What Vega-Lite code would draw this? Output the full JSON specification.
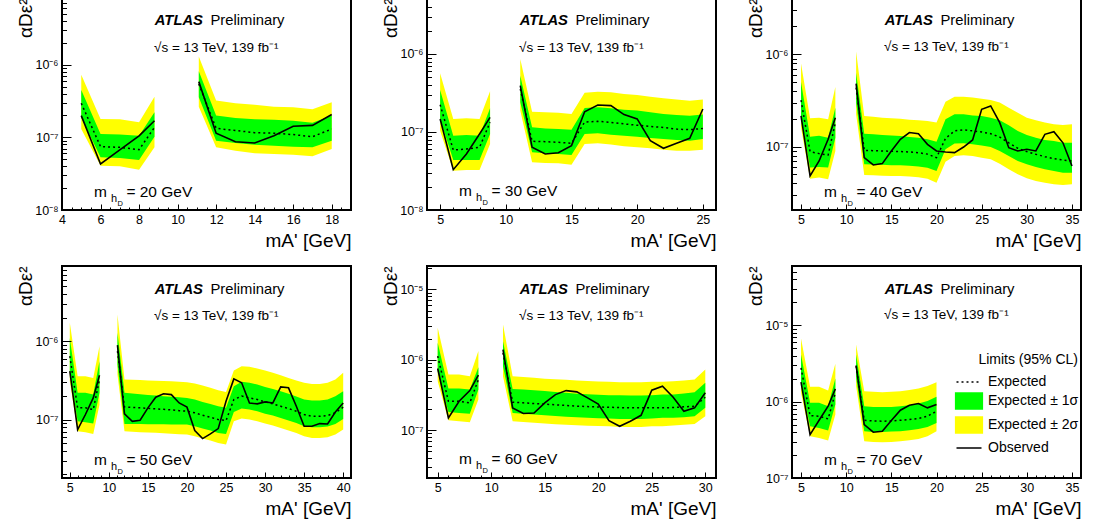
{
"$schema": "https://vega.github.io/schema/vega-lite/v6.json",
"background": "white",
"padding": {"left": 15, "top": -9, "right": 0, "bottom": 0},
"columns": 3,
"spacing": {"row": 56, "column": 76},
"bounds": "flush",
"resolve": {"scale": {"color": "independent"}, "legend": {"color": "independent"}},
"config": {
  "font": "Liberation Sans",
  "view": {"stroke": "black", "strokeWidth": 2},
  "axis": {"domain": false, "grid": false, "labelFont": "Liberation Sans", "labelFontSize": 12.5, "labelColor": "black", "tickColor": "black", "tickWidth": 1, "titleFont": "Liberation Sans", "titleFontSize": 19, "titleFontWeight": "normal", "titleColor": "black", "labelOverlap": false, "labelFlush": false},
  "text": {"font": "Liberation Sans", "color": "black"}
},
"datasets": {
"m20": [
{"x":5,"s":1,"lo2":1.30e-7,"lo1":1.88e-7,"exp":2.94e-7,"hi1":4.48e-7,"hi2":7.27e-7,"obs":1.99e-7},
{"x":6,"s":1,"lo2":4.07e-8,"lo1":5.31e-8,"exp":7.44e-8,"hi1":1.11e-7,"hi2":1.79e-7,"obs":4.30e-8},
{"x":7,"s":1,"lo2":3.99e-8,"lo1":5.20e-8,"exp":7.28e-8,"hi1":1.09e-7,"hi2":1.77e-7,"obs":6.70e-8},
{"x":8,"s":1,"lo2":3.59e-8,"lo1":4.88e-8,"exp":6.76e-8,"hi1":1.05e-7,"hi2":1.61e-7,"obs":1.05e-7},
{"x":8.8,"s":1,"lo2":7.28e-8,"lo1":1.02e-7,"exp":1.37e-7,"hi1":2.21e-7,"hi2":3.63e-7,"obs":1.69e-7},
{"x":11.1,"s":2,"lo2":2.64e-7,"lo1":3.55e-7,"exp":5.42e-7,"hi1":8.09e-7,"hi2":1.29e-6,"obs":5.84e-7},
{"x":12,"s":2,"lo2":7.28e-8,"lo1":9.0e-8,"exp":1.33e-7,"hi1":1.99e-7,"hi2":3.20e-7,"obs":1.14e-7},
{"x":13,"s":2,"lo2":6.56e-8,"lo1":8.36e-8,"exp":1.24e-7,"hi1":1.85e-7,"hi2":2.94e-7,"obs":8.71e-8},
{"x":14,"s":2,"lo2":6.03e-8,"lo1":7.93e-8,"exp":1.16e-7,"hi1":1.77e-7,"hi2":2.80e-7,"obs":8.36e-8},
{"x":15,"s":2,"lo2":5.90e-8,"lo1":7.68e-8,"exp":1.14e-7,"hi1":1.74e-7,"hi2":2.64e-7,"obs":1.05e-7},
{"x":16,"s":2,"lo2":5.77e-8,"lo1":7.44e-8,"exp":1.09e-7,"hi1":1.69e-7,"hi2":2.59e-7,"obs":1.42e-7},
{"x":17,"s":2,"lo2":5.48e-8,"lo1":7.28e-8,"exp":1.02e-7,"hi1":1.59e-7,"hi2":2.43e-7,"obs":1.46e-7},
{"x":18,"s":2,"lo2":6.90e-8,"lo1":9.0e-8,"exp":1.30e-7,"hi1":1.99e-7,"hi2":3.03e-7,"obs":2.06e-7}
],
"m30": [
{"x":5,"s":1,"lo2":1.04e-7,"lo1":1.47e-7,"exp":2.24e-7,"hi1":3.45e-7,"hi2":5.65e-7,"obs":1.47e-7},
{"x":6,"s":1,"lo2":3.19e-8,"lo1":4.38e-8,"exp":5.87e-8,"hi1":8.97e-8,"hi2":1.47e-7,"obs":3.29e-8},
{"x":7,"s":1,"lo2":3.26e-8,"lo1":4.38e-8,"exp":6.05e-8,"hi1":9.16e-8,"hi2":1.50e-7,"obs":5.23e-8},
{"x":8,"s":1,"lo2":3.26e-8,"lo1":4.38e-8,"exp":6.36e-8,"hi1":8.97e-8,"hi2":1.47e-7,"obs":9.42e-8},
{"x":8.8,"s":1,"lo2":7.02e-8,"lo1":9.42e-8,"exp":1.33e-7,"hi1":2.01e-7,"hi2":3.32e-7,"obs":1.54e-7},
{"x":11.1,"s":2,"lo2":1.88e-7,"lo1":2.40e-7,"exp":3.56e-7,"hi1":5.27e-7,"hi2":8.63e-7,"obs":3.93e-7},
{"x":12,"s":2,"lo2":4.08e-8,"lo1":5.48e-8,"exp":7.59e-8,"hi1":1.15e-7,"hi2":1.82e-7,"obs":6.36e-8},
{"x":13,"s":2,"lo2":4.01e-8,"lo1":5.32e-8,"exp":7.52e-8,"hi1":1.11e-7,"hi2":1.79e-7,"obs":5.23e-8},
{"x":14,"s":2,"lo2":3.97e-8,"lo1":5.23e-8,"exp":7.38e-8,"hi1":1.09e-7,"hi2":1.76e-7,"obs":5.43e-8},
{"x":15,"s":2,"lo2":3.81e-8,"lo1":5.07e-8,"exp":7.16e-8,"hi1":1.07e-7,"hi2":1.70e-7,"obs":6.68e-8},
{"x":16,"s":2,"lo2":7.02e-8,"lo1":9.42e-8,"exp":1.34e-7,"hi1":2.03e-7,"hi2":3.19e-7,"obs":1.82e-7},
{"x":17,"s":2,"lo2":7.16e-8,"lo1":9.62e-8,"exp":1.37e-7,"hi1":2.07e-7,"hi2":3.29e-7,"obs":2.22e-7},
{"x":18,"s":2,"lo2":6.89e-8,"lo1":9.25e-8,"exp":1.33e-7,"hi1":2.01e-7,"hi2":3.23e-7,"obs":2.18e-7},
{"x":19,"s":2,"lo2":6.55e-8,"lo1":8.97e-8,"exp":1.27e-7,"hi1":1.93e-7,"hi2":3.07e-7,"obs":1.67e-7},
{"x":20,"s":2,"lo2":6.36e-8,"lo1":8.71e-8,"exp":1.22e-7,"hi1":1.88e-7,"hi2":2.98e-7,"obs":1.47e-7},
{"x":21,"s":2,"lo2":6.18e-8,"lo1":8.38e-8,"exp":1.18e-7,"hi1":1.79e-7,"hi2":2.84e-7,"obs":7.74e-8},
{"x":22,"s":2,"lo2":5.94e-8,"lo1":8.13e-8,"exp":1.14e-7,"hi1":1.70e-7,"hi2":2.70e-7,"obs":6.18e-8},
{"x":23,"s":2,"lo2":5.76e-8,"lo1":7.89e-8,"exp":1.09e-7,"hi1":1.65e-7,"hi2":2.60e-7,"obs":7.16e-8},
{"x":24,"s":2,"lo2":5.76e-8,"lo1":7.74e-8,"exp":1.07e-7,"hi1":1.62e-7,"hi2":2.52e-7,"obs":8.29e-8},
{"x":25,"s":2,"lo2":5.94e-8,"lo1":8.13e-8,"exp":1.11e-7,"hi1":1.67e-7,"hi2":2.60e-7,"obs":1.97e-7}
],
"m40": [
{"x":5,"s":1,"lo2":1.61e-7,"lo1":2.15e-7,"exp":3.18e-7,"hi1":5.01e-7,"hi2":7.93e-7,"obs":2.15e-7},
{"x":6,"s":1,"lo2":4.50e-8,"lo1":5.93e-8,"exp":8.83e-8,"hi1":1.28e-7,"hi2":2.03e-7,"obs":4.81e-8},
{"x":7,"s":1,"lo2":4.62e-8,"lo1":6.02e-8,"exp":8.40e-8,"hi1":1.31e-7,"hi2":2.06e-7,"obs":7.0e-8},
{"x":8,"s":1,"lo2":4.43e-8,"lo1":5.93e-8,"exp":8.12e-8,"hi1":1.25e-7,"hi2":1.98e-7,"obs":1.20e-7},
{"x":8.8,"s":1,"lo2":8.98e-8,"lo1":1.25e-7,"exp":1.82e-7,"hi1":2.64e-7,"hi2":4.43e-7,"obs":2.06e-7},
{"x":11.1,"s":2,"lo2":2.24e-7,"lo1":3.0e-7,"exp":4.35e-7,"hi1":6.33e-7,"hi2":1.07e-6,"obs":4.81e-7},
{"x":12,"s":2,"lo2":4.93e-8,"lo1":6.44e-8,"exp":9.12e-8,"hi1":1.38e-7,"hi2":2.15e-7,"obs":7.6e-8},
{"x":13,"s":2,"lo2":4.9e-8,"lo1":6.4e-8,"exp":9.05e-8,"hi1":1.36e-7,"hi2":2.11e-7,"obs":6.33e-8},
{"x":14,"s":2,"lo2":4.85e-8,"lo1":6.35e-8,"exp":8.98e-8,"hi1":1.34e-7,"hi2":2.06e-7,"obs":6.55e-8},
{"x":15,"s":2,"lo2":4.8e-8,"lo1":6.3e-8,"exp":8.9e-8,"hi1":1.32e-7,"hi2":2.03e-7,"obs":8.98e-8},
{"x":16,"s":2,"lo2":4.8e-8,"lo1":6.3e-8,"exp":8.85e-8,"hi1":1.30e-7,"hi2":2.0e-7,"obs":1.20e-7},
{"x":17,"s":2,"lo2":4.75e-8,"lo1":6.2e-8,"exp":8.75e-8,"hi1":1.27e-7,"hi2":1.96e-7,"obs":1.42e-7},
{"x":18,"s":2,"lo2":4.65e-8,"lo1":6.1e-8,"exp":8.6e-8,"hi1":1.25e-7,"hi2":1.93e-7,"obs":1.38e-7},
{"x":19,"s":2,"lo2":4.5e-8,"lo1":5.9e-8,"exp":8.3e-8,"hi1":1.20e-7,"hi2":1.90e-7,"obs":1.06e-7},
{"x":20,"s":2,"lo2":4.07e-8,"lo1":5.45e-8,"exp":7.6e-8,"hi1":1.13e-7,"hi2":1.82e-7,"obs":8.98e-8},
{"x":21,"s":2,"lo2":6.88e-8,"lo1":9.36e-8,"exp":1.23e-7,"hi1":1.98e-7,"hi2":3.07e-7,"obs":8.75e-8},
{"x":22,"s":2,"lo2":7.92e-8,"lo1":1.08e-7,"exp":1.48e-7,"hi1":2.24e-7,"hi2":3.48e-7,"obs":8.61e-8},
{"x":23,"s":2,"lo2":8.05e-8,"lo1":1.09e-7,"exp":1.52e-7,"hi1":2.24e-7,"hi2":3.48e-7,"obs":9.9e-8},
{"x":24,"s":2,"lo2":7.92e-8,"lo1":1.06e-7,"exp":1.48e-7,"hi1":2.18e-7,"hi2":3.40e-7,"obs":1.18e-7},
{"x":25,"s":2,"lo2":7.6e-8,"lo1":1.03e-7,"exp":1.44e-7,"hi1":2.15e-7,"hi2":3.31e-7,"obs":2.54e-7},
{"x":26,"s":2,"lo2":7.29e-8,"lo1":9.9e-8,"exp":1.38e-7,"hi1":2.06e-7,"hi2":3.20e-7,"obs":2.76e-7},
{"x":27,"s":2,"lo2":6.54e-8,"lo1":8.98e-8,"exp":1.27e-7,"hi1":1.93e-7,"hi2":3.0e-7,"obs":1.82e-7},
{"x":28,"s":2,"lo2":5.68e-8,"lo1":7.92e-8,"exp":1.10e-7,"hi1":1.70e-7,"hi2":2.64e-7,"obs":9.75e-8},
{"x":29,"s":2,"lo2":5.01e-8,"lo1":6.99e-8,"exp":9.6e-8,"hi1":1.48e-7,"hi2":2.33e-7,"obs":8.98e-8},
{"x":30,"s":2,"lo2":4.54e-8,"lo1":6.44e-8,"exp":8.83e-8,"hi1":1.34e-7,"hi2":2.06e-7,"obs":9.36e-8},
{"x":31,"s":2,"lo2":4.25e-8,"lo1":6.02e-8,"exp":8.26e-8,"hi1":1.25e-7,"hi2":1.93e-7,"obs":8.98e-8},
{"x":32,"s":2,"lo2":4.07e-8,"lo1":5.68e-8,"exp":7.79e-8,"hi1":1.18e-7,"hi2":1.82e-7,"obs":1.36e-7},
{"x":33,"s":2,"lo2":3.91e-8,"lo1":5.45e-8,"exp":7.41e-8,"hi1":1.15e-7,"hi2":1.75e-7,"obs":1.45e-7},
{"x":34,"s":2,"lo2":3.84e-8,"lo1":5.23e-8,"exp":7.17e-8,"hi1":1.10e-7,"hi2":1.72e-7,"obs":1.10e-7},
{"x":35,"s":2,"lo2":3.91e-8,"lo1":5.23e-8,"exp":6.99e-8,"hi1":1.10e-7,"hi2":1.75e-7,"obs":6.18e-8}
],
"m50": [
{"x":5,"s":1,"lo2":3.08e-7,"lo1":4.14e-7,"exp":6.44e-7,"hi1":1.10e-6,"hi2":1.71e-6,"obs":4.14e-7},
{"x":6,"s":1,"lo2":7.1e-8,"lo1":9.5e-8,"exp":1.41e-7,"hi1":2.19e-7,"hi2":3.57e-7,"obs":7.45e-8},
{"x":7,"s":1,"lo2":6.9e-8,"lo1":9.25e-8,"exp":1.41e-7,"hi1":2.19e-7,"hi2":3.57e-7,"obs":1.16e-7},
{"x":8,"s":1,"lo2":6.56e-8,"lo1":8.89e-8,"exp":1.34e-7,"hi1":2.08e-7,"hi2":3.40e-7,"obs":1.89e-7},
{"x":8.8,"s":1,"lo2":1.55e-7,"lo1":2.19e-7,"exp":3.24e-7,"hi1":5.55e-7,"hi2":8.63e-7,"obs":3.68e-7},
{"x":11.1,"s":2,"lo2":3.75e-7,"lo1":5.04e-7,"exp":7.45e-7,"hi1":1.28e-6,"hi2":2.19e-6,"obs":8.89e-7},
{"x":12,"s":2,"lo2":7.1e-8,"lo1":8.8e-8,"exp":1.45e-7,"hi1":2.2e-7,"hi2":3.25e-7,"obs":1.18e-7},
{"x":13,"s":2,"lo2":7.0e-8,"lo1":8.8e-8,"exp":1.43e-7,"hi1":2.15e-7,"hi2":3.22e-7,"obs":9.5e-8},
{"x":14,"s":2,"lo2":6.9e-8,"lo1":8.78e-8,"exp":1.41e-7,"hi1":2.1e-7,"hi2":3.19e-7,"obs":9.8e-8},
{"x":15,"s":2,"lo2":6.85e-8,"lo1":8.75e-8,"exp":1.39e-7,"hi1":2.06e-7,"hi2":3.16e-7,"obs":1.41e-7},
{"x":16,"s":2,"lo2":6.8e-8,"lo1":8.72e-8,"exp":1.37e-7,"hi1":2.02e-7,"hi2":3.13e-7,"obs":1.93e-7},
{"x":17,"s":2,"lo2":6.7e-8,"lo1":8.7e-8,"exp":1.35e-7,"hi1":1.98e-7,"hi2":3.1e-7,"obs":2.13e-7},
{"x":18,"s":2,"lo2":6.6e-8,"lo1":8.68e-8,"exp":1.33e-7,"hi1":1.95e-7,"hi2":3.07e-7,"obs":2.08e-7},
{"x":19,"s":2,"lo2":6.5e-8,"lo1":8.65e-8,"exp":1.30e-7,"hi1":1.92e-7,"hi2":3.03e-7,"obs":1.63e-7},
{"x":20,"s":2,"lo2":6.44e-8,"lo1":8.63e-8,"exp":1.28e-7,"hi1":1.89e-7,"hi2":3.0e-7,"obs":1.44e-7},
{"x":21,"s":2,"lo2":6.12e-8,"lo1":8.22e-8,"exp":1.22e-7,"hi1":1.80e-7,"hi2":2.88e-7,"obs":7.24e-8},
{"x":22,"s":2,"lo2":5.72e-8,"lo1":7.67e-8,"exp":1.135e-7,"hi1":1.68e-7,"hi2":2.72e-7,"obs":5.72e-8},
{"x":23,"s":2,"lo2":5.40e-8,"lo1":7.24e-8,"exp":1.07e-7,"hi1":1.585e-7,"hi2":2.54e-7,"obs":6.56e-8},
{"x":24,"s":2,"lo2":5.04e-8,"lo1":6.76e-8,"exp":1.0e-7,"hi1":1.48e-7,"hi2":2.37e-7,"obs":7.67e-8},
{"x":25,"s":2,"lo2":4.80e-8,"lo1":6.56e-8,"exp":9.7e-8,"hi1":1.41e-7,"hi2":2.25e-7,"obs":1.71e-7},
{"x":26,"s":2,"lo2":9.5e-8,"lo1":1.25e-7,"exp":1.80e-7,"hi1":2.66e-7,"hi2":4.22e-7,"obs":3.30e-7},
{"x":27,"s":2,"lo2":1.03e-7,"lo1":1.38e-7,"exp":1.99e-7,"hi1":3.03e-7,"hi2":4.80e-7,"obs":2.94e-7},
{"x":28,"s":2,"lo2":1.0e-7,"lo1":1.34e-7,"exp":1.89e-7,"hi1":2.94e-7,"hi2":4.70e-7,"obs":1.63e-7},
{"x":29,"s":2,"lo2":9.5e-8,"lo1":1.28e-7,"exp":1.80e-7,"hi1":2.80e-7,"hi2":4.48e-7,"obs":1.585e-7},
{"x":30,"s":2,"lo2":8.89e-8,"lo1":1.19e-7,"exp":1.68e-7,"hi1":2.61e-7,"hi2":4.22e-7,"obs":1.68e-7},
{"x":31,"s":2,"lo2":8.38e-8,"lo1":1.125e-7,"exp":1.585e-7,"hi1":2.46e-7,"hi2":3.94e-7,"obs":1.63e-7},
{"x":32,"s":2,"lo2":7.83e-8,"lo1":1.05e-7,"exp":1.48e-7,"hi1":2.30e-7,"hi2":3.68e-7,"obs":2.61e-7},
{"x":33,"s":2,"lo2":7.24e-8,"lo1":9.7e-8,"exp":1.38e-7,"hi1":2.13e-7,"hi2":3.40e-7,"obs":2.54e-7},
{"x":34,"s":2,"lo2":6.76e-8,"lo1":9.07e-8,"exp":1.28e-7,"hi1":1.97e-7,"hi2":3.15e-7,"obs":1.48e-7},
{"x":35,"s":2,"lo2":6.12e-8,"lo1":8.22e-8,"exp":1.16e-7,"hi1":1.80e-7,"hi2":2.94e-7,"obs":8.22e-8},
{"x":36,"s":2,"lo2":5.83e-8,"lo1":7.98e-8,"exp":1.10e-7,"hi1":1.75e-7,"hi2":2.85e-7,"obs":8.22e-8},
{"x":37,"s":2,"lo2":5.83e-8,"lo1":7.98e-8,"exp":1.10e-7,"hi1":1.75e-7,"hi2":2.85e-7,"obs":8.89e-8},
{"x":38,"s":2,"lo2":5.95e-8,"lo1":8.14e-8,"exp":1.125e-7,"hi1":1.80e-7,"hi2":2.94e-7,"obs":8.8e-8},
{"x":39,"s":2,"lo2":6.44e-8,"lo1":8.8e-8,"exp":1.22e-7,"hi1":1.99e-7,"hi2":3.24e-7,"obs":1.25e-7},
{"x":40,"s":2,"lo2":7.45e-8,"lo1":1.02e-7,"exp":1.44e-7,"hi1":2.30e-7,"hi2":3.94e-7,"obs":1.63e-7}
],
"m60": [
{"x":5,"s":1,"lo2":4.97e-7,"lo1":6.9e-7,"exp":1.13e-6,"hi1":1.75e-6,"hi2":2.85e-6,"obs":7.53e-7},
{"x":6,"s":1,"lo2":1.39e-7,"lo1":1.82e-7,"exp":2.58e-7,"hi1":3.91e-7,"hi2":6.18e-7,"obs":1.50e-7},
{"x":7,"s":1,"lo2":1.34e-7,"lo1":1.76e-7,"exp":2.58e-7,"hi1":3.91e-7,"hi2":6.18e-7,"obs":2.58e-7},
{"x":8,"s":1,"lo2":1.30e-7,"lo1":1.71e-7,"exp":2.45e-7,"hi1":3.79e-7,"hi2":5.86e-7,"obs":3.66e-7},
{"x":8.8,"s":1,"lo2":2.73e-7,"lo1":3.79e-7,"exp":5.25e-7,"hi1":7.86e-7,"hi2":1.33e-6,"obs":6.05e-7},
{"x":11.1,"s":2,"lo2":5.86e-7,"lo1":8.13e-7,"exp":1.26e-6,"hi1":1.84e-6,"hi2":3.18e-6,"obs":1.40e-6},
{"x":12,"s":2,"lo2":1.34e-7,"lo1":1.76e-7,"exp":2.50e-7,"hi1":3.87e-7,"hi2":5.86e-7,"obs":2.08e-7},
{"x":13,"s":2,"lo2":1.31e-7,"lo1":1.72e-7,"exp":2.45e-7,"hi1":3.8e-7,"hi2":5.7e-7,"obs":1.73e-7},
{"x":14,"s":2,"lo2":1.28e-7,"lo1":1.68e-7,"exp":2.4e-7,"hi1":3.7e-7,"hi2":5.55e-7,"obs":1.76e-7},
{"x":15,"s":2,"lo2":1.25e-7,"lo1":1.64e-7,"exp":2.35e-7,"hi1":3.6e-7,"hi2":5.4e-7,"obs":2.45e-7},
{"x":16,"s":2,"lo2":1.22e-7,"lo1":1.6e-7,"exp":2.3e-7,"hi1":3.5e-7,"hi2":5.3e-7,"obs":3.21e-7},
{"x":17,"s":2,"lo2":1.2e-7,"lo1":1.56e-7,"exp":2.25e-7,"hi1":3.4e-7,"hi2":5.2e-7,"obs":3.66e-7},
{"x":18,"s":2,"lo2":1.18e-7,"lo1":1.53e-7,"exp":2.2e-7,"hi1":3.3e-7,"hi2":5.1e-7,"obs":3.51e-7},
{"x":19,"s":2,"lo2":1.16e-7,"lo1":1.5e-7,"exp":2.17e-7,"hi1":3.25e-7,"hi2":5.0e-7,"obs":2.88e-7},
{"x":20,"s":2,"lo2":1.15e-7,"lo1":1.48e-7,"exp":2.14e-7,"hi1":3.2e-7,"hi2":4.93e-7,"obs":2.35e-7},
{"x":21,"s":2,"lo2":1.14e-7,"lo1":1.47e-7,"exp":2.12e-7,"hi1":3.15e-7,"hi2":4.87e-7,"obs":1.37e-7},
{"x":22,"s":2,"lo2":1.115e-7,"lo1":1.45e-7,"exp":2.10e-7,"hi1":3.15e-7,"hi2":4.81e-7,"obs":1.14e-7},
{"x":23,"s":2,"lo2":1.115e-7,"lo1":1.45e-7,"exp":2.08e-7,"hi1":3.11e-7,"hi2":4.81e-7,"obs":1.34e-7},
{"x":24,"s":2,"lo2":1.115e-7,"lo1":1.45e-7,"exp":2.08e-7,"hi1":3.11e-7,"hi2":4.81e-7,"obs":1.63e-7},
{"x":25,"s":2,"lo2":1.14e-7,"lo1":1.47e-7,"exp":2.08e-7,"hi1":3.15e-7,"hi2":4.87e-7,"obs":3.70e-7},
{"x":26,"s":2,"lo2":1.14e-7,"lo1":1.50e-7,"exp":2.08e-7,"hi1":3.21e-7,"hi2":4.87e-7,"obs":4.23e-7},
{"x":27,"s":2,"lo2":1.165e-7,"lo1":1.50e-7,"exp":2.10e-7,"hi1":3.21e-7,"hi2":4.97e-7,"obs":2.94e-7},
{"x":28,"s":2,"lo2":1.20e-7,"lo1":1.53e-7,"exp":2.15e-7,"hi1":3.32e-7,"hi2":5.08e-7,"obs":1.86e-7},
{"x":29,"s":2,"lo2":1.23e-7,"lo1":1.58e-7,"exp":2.19e-7,"hi1":3.47e-7,"hi2":5.25e-7,"obs":2.08e-7},
{"x":30,"s":2,"lo2":1.58e-7,"lo1":2.08e-7,"exp":2.94e-7,"hi1":4.71e-7,"hi2":7.29e-7,"obs":3.40e-7}
],
"m70": [
{"x":5,"s":1,"lo2":1.31e-6,"lo1":1.77e-6,"exp":2.78e-6,"hi1":4.16e-6,"hi2":6.75e-6,"obs":1.80e-6},
{"x":6,"s":1,"lo2":3.52e-7,"lo1":4.77e-7,"exp":6.58e-7,"hi1":9.66e-7,"hi2":1.57e-6,"obs":3.70e-7},
{"x":7,"s":1,"lo2":3.35e-7,"lo1":4.53e-7,"exp":6.45e-7,"hi1":9.66e-7,"hi2":1.57e-6,"obs":5.71e-7},
{"x":8,"s":1,"lo2":3.09e-7,"lo1":4.18e-7,"exp":5.95e-7,"hi1":8.73e-7,"hi2":1.40e-6,"obs":8.73e-7},
{"x":8.8,"s":1,"lo2":6.79e-7,"lo1":9.18e-7,"exp":1.31e-6,"hi1":2.01e-6,"hi2":3.14e-6,"obs":1.47e-6},
{"x":11.1,"s":2,"lo2":1.60e-6,"lo1":2.06e-6,"exp":2.92e-6,"hi1":4.16e-6,"hi2":5.63e-6,"obs":2.98e-6},
{"x":12,"s":2,"lo2":3.03e-7,"lo1":4.10e-7,"exp":5.71e-7,"hi1":8.73e-7,"hi2":1.37e-6,"obs":5.01e-7},
{"x":13,"s":2,"lo2":2.97e-7,"lo1":4.02e-7,"exp":5.60e-7,"hi1":8.55e-7,"hi2":1.35e-6,"obs":3.98e-7},
{"x":14,"s":2,"lo2":2.94e-7,"lo1":4.02e-7,"exp":5.55e-7,"hi1":8.55e-7,"hi2":1.33e-6,"obs":4.10e-7},
{"x":15,"s":2,"lo2":2.97e-7,"lo1":4.06e-7,"exp":5.60e-7,"hi1":8.55e-7,"hi2":1.35e-6,"obs":5.66e-7},
{"x":16,"s":2,"lo2":3.03e-7,"lo1":4.10e-7,"exp":5.71e-7,"hi1":8.73e-7,"hi2":1.37e-6,"obs":7.73e-7},
{"x":17,"s":2,"lo2":3.12e-7,"lo1":4.23e-7,"exp":5.83e-7,"hi1":9.0e-7,"hi2":1.42e-6,"obs":9.0e-7},
{"x":18,"s":2,"lo2":3.25e-7,"lo1":4.40e-7,"exp":6.01e-7,"hi1":9.46e-7,"hi2":1.49e-6,"obs":9.46e-7},
{"x":19,"s":2,"lo2":3.52e-7,"lo1":4.67e-7,"exp":6.45e-7,"hi1":1.02e-6,"hi2":1.60e-6,"obs":8.30e-7},
{"x":20,"s":2,"lo2":4.10e-7,"lo1":5.27e-7,"exp":7.50e-7,"hi1":1.16e-6,"hi2":1.80e-6,"obs":9.18e-7}
]
},
"concat": [
{
 "width": 289, "height": 212,
 "data": {"name": "m20"},
 "resolve": {"axis": {"x": "independent", "y": "independent"}},
 "layer": [
  {"mark": {"type": "area", "color": "#ffff00"},
   "encoding": {
    "x": {"field": "x", "type": "quantitative", "scale": {"domain": [4, 19], "nice": false, "zero": false},
      "axis": {"values": [4,4.5,5,5.5,6,6.5,7,7.5,8,8.5,9,9.5,10,10.5,11,11.5,12,12.5,13,13.5,14,14.5,15,15.5,16,16.5,17,17.5,18,18.5,19], "tickSize": {"condition": {"test": "datum.value % 2 == 0", "value": -6}, "value": -3}, "labelExpr": "datum.value % 2 == 0 ? format(datum.value, 'd') : ''", "labelPadding": 9, "title": "mA' [GeV]", "titleAnchor": "end", "titlePadding": 3, "zindex": 1}},
    "y": {"field": "lo2", "type": "quantitative", "scale": {"type": "log", "domain": [1e-8, 8.26e-6], "nice": false},
      "axis": {"values": [1e-8,2e-8,3e-8,4e-8,5e-8,6e-8,7e-8,8e-8,9e-8,1e-7,2e-7,3e-7,4e-7,5e-7,6e-7,7e-7,8e-7,9e-7,1e-6,2e-6,3e-6,4e-6,5e-6,6e-6,7e-6,8e-6], "tickSize": {"condition": {"test": "abs(log(datum.value)/LN10 - round(log(datum.value)/LN10)) < 0.01", "value": -9}, "value": -4.5}, "labelExpr": "abs(log(datum.value)/LN10 - round(log(datum.value)/LN10)) < 0.01 ? '10⁻' + ['⁰','¹','²','³','⁴','⁵','⁶','⁷','⁸','⁹'][-round(log(datum.value)/LN10)] : ''", "labelPadding": 13, "title": "αDε²", "titleAnchor": "end", "titlePadding": -1, "zindex": 1}},
    "y2": {"field": "hi2"},
    "detail": {"field": "s"}}},
  {"layer": [
   {"mark": {"type": "area", "color": "#00ff00"},
    "encoding": {
     "x": {"field": "x", "type": "quantitative", "axis": {"orient": "top", "values": [4,4.5,5,5.5,6,6.5,7,7.5,8,8.5,9,9.5,10,10.5,11,11.5,12,12.5,13,13.5,14,14.5,15,15.5,16,16.5,17,17.5,18,18.5,19], "tickSize": {"condition": {"test": "datum.value % 2 == 0", "value": -6}, "value": -3}, "labels": false, "title": null, "zindex": 1}},
     "y": {"field": "lo1", "type": "quantitative", "axis": {"orient": "right", "values": [1e-8,2e-8,3e-8,4e-8,5e-8,6e-8,7e-8,8e-8,9e-8,1e-7,2e-7,3e-7,4e-7,5e-7,6e-7,7e-7,8e-7,9e-7,1e-6,2e-6,3e-6,4e-6,5e-6,6e-6,7e-6,8e-6], "tickSize": {"condition": {"test": "abs(log(datum.value)/LN10 - round(log(datum.value)/LN10)) < 0.01", "value": -9}, "value": -4.5}, "labels": false, "title": null, "zindex": 1}},
     "y2": {"field": "hi1"},
     "detail": {"field": "s"}}},
   {"mark": {"type": "line", "color": "black", "strokeDash": [2, 3], "strokeWidth": 1.5},
    "encoding": {"x": {"field": "x", "type": "quantitative", "axis": null}, "y": {"field": "exp", "type": "quantitative", "axis": null}, "detail": {"field": "s"}}},
   {"mark": {"type": "line", "color": "black", "strokeWidth": 1.6},
    "encoding": {"x": {"field": "x", "type": "quantitative", "axis": null}, "y": {"field": "obs", "type": "quantitative", "axis": null}, "detail": {"field": "s"}}},
   {"data": {"values": [{}]}, "mark": {"type": "text", "text": "ATLAS", "align": "right", "baseline": "middle", "fontSize": 14.8, "fontWeight": "bold", "fontStyle": "italic"},
    "encoding": {"x": {"datum": 11.318, "type": "quantitative", "axis": null}, "y": {"datum": 3.93e-6, "type": "quantitative", "axis": null}}},
   {"data": {"values": [{}]}, "mark": {"type": "text", "text": "Preliminary", "align": "left", "baseline": "middle", "fontSize": 14.8},
    "encoding": {"x": {"datum": 11.707, "type": "quantitative", "axis": null}, "y": {"datum": 3.93e-6, "type": "quantitative", "axis": null}}},
   {"data": {"values": [{}]}, "mark": {"type": "text", "text": "√s = 13 TeV, 139 fb⁻¹", "align": "left", "baseline": "middle", "fontSize": 13.5},
    "encoding": {"x": {"datum": 8.775, "type": "quantitative", "axis": null}, "y": {"datum": 1.72e-6, "type": "quantitative", "axis": null}}},
   {"data": {"values": [{}]}, "mark": {"type": "text", "text": "m", "align": "left", "baseline": "alphabetic", "fontSize": 15.5},
    "encoding": {"x": {"datum": 5.661, "type": "quantitative", "axis": null}, "y": {"datum": 1.53e-8, "type": "quantitative", "axis": null}}},
   {"data": {"values": [{}]}, "mark": {"type": "text", "text": "h", "align": "left", "baseline": "alphabetic", "fontSize": 11, "dy": 5},
    "encoding": {"x": {"datum": 6.543, "type": "quantitative", "axis": null}, "y": {"datum": 1.53e-8, "type": "quantitative", "axis": null}}},
   {"data": {"values": [{}]}, "mark": {"type": "text", "text": "D", "align": "left", "baseline": "alphabetic", "fontSize": 7.5, "dy": 9},
    "encoding": {"x": {"datum": 6.88, "type": "quantitative", "axis": null}, "y": {"datum": 1.53e-8, "type": "quantitative", "axis": null}}},
   {"data": {"values": [{}]}, "mark": {"type": "text", "text": "= 20 GeV", "align": "left", "baseline": "alphabetic", "fontSize": 15.5},
    "encoding": {"x": {"datum": 7.342, "type": "quantitative", "axis": null}, "y": {"datum": 1.53e-8, "type": "quantitative", "axis": null}}}
  ]}
 ]
},
{
 "width": 289, "height": 212,
 "data": {"name": "m30"},
 "resolve": {"axis": {"x": "independent", "y": "independent"}},
 "layer": [
  {"mark": {"type": "area", "color": "#ffff00"},
   "encoding": {
    "x": {"field": "x", "type": "quantitative", "scale": {"domain": [4, 26], "nice": false, "zero": false},
      "axis": {"values": [4,5,6,7,8,9,10,11,12,13,14,15,16,17,18,19,20,21,22,23,24,25,26], "tickSize": {"condition": {"test": "datum.value % 5 == 0", "value": -6}, "value": -3}, "labelExpr": "datum.value % 5 == 0 ? datum.label : ''", "labelPadding": 9, "title": "mA' [GeV]", "titleAnchor": "end", "titlePadding": 3, "zindex": 1}},
    "y": {"field": "lo2", "type": "quantitative", "scale": {"type": "log", "domain": [1e-8, 5.22e-6], "nice": false},
      "axis": {"values": [1e-8,2e-8,3e-8,4e-8,5e-8,6e-8,7e-8,8e-8,9e-8,1e-7,2e-7,3e-7,4e-7,5e-7,6e-7,7e-7,8e-7,9e-7,1e-6,2e-6,3e-6,4e-6,5e-6], "tickSize": {"condition": {"test": "abs(log(datum.value)/LN10 - round(log(datum.value)/LN10)) < 0.01", "value": -9}, "value": -4.5}, "labelExpr": "abs(log(datum.value)/LN10 - round(log(datum.value)/LN10)) < 0.01 ? '10⁻' + ['⁰','¹','²','³','⁴','⁵','⁶','⁷','⁸','⁹'][-round(log(datum.value)/LN10)] : ''", "labelPadding": 13, "title": "αDε²", "titleAnchor": "end", "titlePadding": -1, "zindex": 1}},
    "y2": {"field": "hi2"},
    "detail": {"field": "s"}}},
  {"layer": [
   {"mark": {"type": "area", "color": "#00ff00"},
    "encoding": {
     "x": {"field": "x", "type": "quantitative", "axis": {"orient": "top", "values": [4,5,6,7,8,9,10,11,12,13,14,15,16,17,18,19,20,21,22,23,24,25,26], "tickSize": {"condition": {"test": "datum.value % 5 == 0", "value": -6}, "value": -3}, "labels": false, "title": null, "zindex": 1}},
     "y": {"field": "lo1", "type": "quantitative", "axis": {"orient": "right", "values": [1e-8,2e-8,3e-8,4e-8,5e-8,6e-8,7e-8,8e-8,9e-8,1e-7,2e-7,3e-7,4e-7,5e-7,6e-7,7e-7,8e-7,9e-7,1e-6,2e-6,3e-6,4e-6,5e-6], "tickSize": {"condition": {"test": "abs(log(datum.value)/LN10 - round(log(datum.value)/LN10)) < 0.01", "value": -9}, "value": -4.5}, "labels": false, "title": null, "zindex": 1}},
     "y2": {"field": "hi1"},
     "detail": {"field": "s"}}},
   {"mark": {"type": "line", "color": "black", "strokeDash": [2, 3], "strokeWidth": 1.5},
    "encoding": {"x": {"field": "x", "type": "quantitative", "axis": null}, "y": {"field": "exp", "type": "quantitative", "axis": null}, "detail": {"field": "s"}}},
   {"mark": {"type": "line", "color": "black", "strokeWidth": 1.6},
    "encoding": {"x": {"field": "x", "type": "quantitative", "axis": null}, "y": {"field": "obs", "type": "quantitative", "axis": null}, "detail": {"field": "s"}}},
   {"data": {"values": [{}]}, "mark": {"type": "text", "text": "ATLAS", "align": "right", "baseline": "middle", "fontSize": 14.8, "fontWeight": "bold", "fontStyle": "italic"},
    "encoding": {"x": {"datum": 14.734, "type": "quantitative", "axis": null}, "y": {"datum": 2.61e-6, "type": "quantitative", "axis": null}}},
   {"data": {"values": [{}]}, "mark": {"type": "text", "text": "Preliminary", "align": "left", "baseline": "middle", "fontSize": 14.8},
    "encoding": {"x": {"datum": 15.305, "type": "quantitative", "axis": null}, "y": {"datum": 2.61e-6, "type": "quantitative", "axis": null}}},
   {"data": {"values": [{}]}, "mark": {"type": "text", "text": "√s = 13 TeV, 139 fb⁻¹", "align": "left", "baseline": "middle", "fontSize": 13.5},
    "encoding": {"x": {"datum": 11.004, "type": "quantitative", "axis": null}, "y": {"datum": 1.21e-6, "type": "quantitative", "axis": null}}},
   {"data": {"values": [{}]}, "mark": {"type": "text", "text": "m", "align": "left", "baseline": "alphabetic", "fontSize": 15.5},
    "encoding": {"x": {"datum": 6.436, "type": "quantitative", "axis": null}, "y": {"datum": 1.49e-8, "type": "quantitative", "axis": null}}},
   {"data": {"values": [{}]}, "mark": {"type": "text", "text": "h", "align": "left", "baseline": "alphabetic", "fontSize": 11, "dy": 5},
    "encoding": {"x": {"datum": 7.73, "type": "quantitative", "axis": null}, "y": {"datum": 1.49e-8, "type": "quantitative", "axis": null}}},
   {"data": {"values": [{}]}, "mark": {"type": "text", "text": "D", "align": "left", "baseline": "alphabetic", "fontSize": 7.5, "dy": 9},
    "encoding": {"x": {"datum": 8.225, "type": "quantitative", "axis": null}, "y": {"datum": 1.49e-8, "type": "quantitative", "axis": null}}},
   {"data": {"values": [{}]}, "mark": {"type": "text", "text": "= 30 GeV", "align": "left", "baseline": "alphabetic", "fontSize": 15.5},
    "encoding": {"x": {"datum": 8.903, "type": "quantitative", "axis": null}, "y": {"datum": 1.49e-8, "type": "quantitative", "axis": null}}}
  ]}
 ]
},
{
 "width": 289, "height": 212,
 "data": {"name": "m40"},
 "resolve": {"axis": {"x": "independent", "y": "independent"}},
 "layer": [
  {"mark": {"type": "area", "color": "#ffff00"},
   "encoding": {
    "x": {"field": "x", "type": "quantitative", "scale": {"domain": [4, 36], "nice": false, "zero": false},
      "axis": {"values": [4,5,6,7,8,9,10,11,12,13,14,15,16,17,18,19,20,21,22,23,24,25,26,27,28,29,30,31,32,33,34,35,36], "tickSize": {"condition": {"test": "datum.value % 5 == 0", "value": -6}, "value": -3}, "labelExpr": "datum.value % 5 == 0 ? datum.label : ''", "labelPadding": 9, "title": "mA' [GeV]", "titleAnchor": "end", "titlePadding": 3, "zindex": 1}},
    "y": {"field": "lo2", "type": "quantitative", "scale": {"type": "log", "domain": [2.06e-8, 4.07e-6], "nice": false},
      "axis": {"values": [3e-8,4e-8,5e-8,6e-8,7e-8,8e-8,9e-8,1e-7,2e-7,3e-7,4e-7,5e-7,6e-7,7e-7,8e-7,9e-7,1e-6,2e-6,3e-6,4e-6], "tickSize": {"condition": {"test": "abs(log(datum.value)/LN10 - round(log(datum.value)/LN10)) < 0.01", "value": -9}, "value": -4.5}, "labelExpr": "abs(log(datum.value)/LN10 - round(log(datum.value)/LN10)) < 0.01 ? '10⁻' + ['⁰','¹','²','³','⁴','⁵','⁶','⁷','⁸','⁹'][-round(log(datum.value)/LN10)] : ''", "labelPadding": 13, "title": "αDε²", "titleAnchor": "end", "titlePadding": -1, "zindex": 1}},
    "y2": {"field": "hi2"},
    "detail": {"field": "s"}}},
  {"layer": [
   {"mark": {"type": "area", "color": "#00ff00"},
    "encoding": {
     "x": {"field": "x", "type": "quantitative", "axis": {"orient": "top", "values": [4,5,6,7,8,9,10,11,12,13,14,15,16,17,18,19,20,21,22,23,24,25,26,27,28,29,30,31,32,33,34,35,36], "tickSize": {"condition": {"test": "datum.value % 5 == 0", "value": -6}, "value": -3}, "labels": false, "title": null, "zindex": 1}},
     "y": {"field": "lo1", "type": "quantitative", "axis": {"orient": "right", "values": [3e-8,4e-8,5e-8,6e-8,7e-8,8e-8,9e-8,1e-7,2e-7,3e-7,4e-7,5e-7,6e-7,7e-7,8e-7,9e-7,1e-6,2e-6,3e-6,4e-6], "tickSize": {"condition": {"test": "abs(log(datum.value)/LN10 - round(log(datum.value)/LN10)) < 0.01", "value": -9}, "value": -4.5}, "labels": false, "title": null, "zindex": 1}},
     "y2": {"field": "hi1"},
     "detail": {"field": "s"}}},
   {"mark": {"type": "line", "color": "black", "strokeDash": [2, 3], "strokeWidth": 1.5},
    "encoding": {"x": {"field": "x", "type": "quantitative", "axis": null}, "y": {"field": "exp", "type": "quantitative", "axis": null}, "detail": {"field": "s"}}},
   {"mark": {"type": "line", "color": "black", "strokeWidth": 1.6},
    "encoding": {"x": {"field": "x", "type": "quantitative", "axis": null}, "y": {"field": "obs", "type": "quantitative", "axis": null}, "detail": {"field": "s"}}},
   {"data": {"values": [{}]}, "mark": {"type": "text", "text": "ATLAS", "align": "right", "baseline": "middle", "fontSize": 14.8, "fontWeight": "bold", "fontStyle": "italic"},
    "encoding": {"x": {"datum": 19.612, "type": "quantitative", "axis": null}, "y": {"datum": 2.27e-6, "type": "quantitative", "axis": null}}},
   {"data": {"values": [{}]}, "mark": {"type": "text", "text": "Preliminary", "align": "left", "baseline": "middle", "fontSize": 14.8},
    "encoding": {"x": {"datum": 20.443, "type": "quantitative", "axis": null}, "y": {"datum": 2.27e-6, "type": "quantitative", "axis": null}}},
   {"data": {"values": [{}]}, "mark": {"type": "text", "text": "√s = 13 TeV, 139 fb⁻¹", "align": "left", "baseline": "middle", "fontSize": 13.5},
    "encoding": {"x": {"datum": 14.187, "type": "quantitative", "axis": null}, "y": {"datum": 1.19e-6, "type": "quantitative", "axis": null}}},
   {"data": {"values": [{}]}, "mark": {"type": "text", "text": "m", "align": "left", "baseline": "alphabetic", "fontSize": 15.5},
    "encoding": {"x": {"datum": 7.543, "type": "quantitative", "axis": null}, "y": {"datum": 2.88e-8, "type": "quantitative", "axis": null}}},
   {"data": {"values": [{}]}, "mark": {"type": "text", "text": "h", "align": "left", "baseline": "alphabetic", "fontSize": 11, "dy": 5},
    "encoding": {"x": {"datum": 9.426, "type": "quantitative", "axis": null}, "y": {"datum": 2.88e-8, "type": "quantitative", "axis": null}}},
   {"data": {"values": [{}]}, "mark": {"type": "text", "text": "D", "align": "left", "baseline": "alphabetic", "fontSize": 7.5, "dy": 9},
    "encoding": {"x": {"datum": 10.145, "type": "quantitative", "axis": null}, "y": {"datum": 2.88e-8, "type": "quantitative", "axis": null}}},
   {"data": {"values": [{}]}, "mark": {"type": "text", "text": "= 40 GeV", "align": "left", "baseline": "alphabetic", "fontSize": 15.5},
    "encoding": {"x": {"datum": 11.131, "type": "quantitative", "axis": null}, "y": {"datum": 2.88e-8, "type": "quantitative", "axis": null}}}
  ]}
 ]
},
{
 "width": 289, "height": 212,
 "data": {"name": "m50"},
 "resolve": {"axis": {"x": "independent", "y": "independent"}},
 "layer": [
  {"mark": {"type": "area", "color": "#ffff00"},
   "encoding": {
    "x": {"field": "x", "type": "quantitative", "scale": {"domain": [4, 41], "nice": false, "zero": false},
      "axis": {"values": [4,5,6,7,8,9,10,11,12,13,14,15,16,17,18,19,20,21,22,23,24,25,26,27,28,29,30,31,32,33,34,35,36,37,38,39,40,41], "tickSize": {"condition": {"test": "datum.value % 5 == 0", "value": -6}, "value": -3}, "labelExpr": "datum.value % 5 == 0 ? datum.label : ''", "labelPadding": 9, "title": "mA' [GeV]", "titleAnchor": "end", "titlePadding": 3, "zindex": 1}},
    "y": {"field": "lo2", "type": "quantitative", "scale": {"type": "log", "domain": [1.8e-8, 9.07e-6], "nice": false},
      "axis": {"values": [2e-8,3e-8,4e-8,5e-8,6e-8,7e-8,8e-8,9e-8,1e-7,2e-7,3e-7,4e-7,5e-7,6e-7,7e-7,8e-7,9e-7,1e-6,2e-6,3e-6,4e-6,5e-6,6e-6,7e-6,8e-6,9e-6], "tickSize": {"condition": {"test": "abs(log(datum.value)/LN10 - round(log(datum.value)/LN10)) < 0.01", "value": -9}, "value": -4.5}, "labelExpr": "abs(log(datum.value)/LN10 - round(log(datum.value)/LN10)) < 0.01 ? '10⁻' + ['⁰','¹','²','³','⁴','⁵','⁶','⁷','⁸','⁹'][-round(log(datum.value)/LN10)] : ''", "labelPadding": 13, "title": "αDε²", "titleAnchor": "end", "titlePadding": -1, "zindex": 1}},
    "y2": {"field": "hi2"},
    "detail": {"field": "s"}}},
  {"layer": [
   {"mark": {"type": "area", "color": "#00ff00"},
    "encoding": {
     "x": {"field": "x", "type": "quantitative", "axis": {"orient": "top", "values": [4,5,6,7,8,9,10,11,12,13,14,15,16,17,18,19,20,21,22,23,24,25,26,27,28,29,30,31,32,33,34,35,36,37,38,39,40,41], "tickSize": {"condition": {"test": "datum.value % 5 == 0", "value": -6}, "value": -3}, "labels": false, "title": null, "zindex": 1}},
     "y": {"field": "lo1", "type": "quantitative", "axis": {"orient": "right", "values": [2e-8,3e-8,4e-8,5e-8,6e-8,7e-8,8e-8,9e-8,1e-7,2e-7,3e-7,4e-7,5e-7,6e-7,7e-7,8e-7,9e-7,1e-6,2e-6,3e-6,4e-6,5e-6,6e-6,7e-6,8e-6,9e-6], "tickSize": {"condition": {"test": "abs(log(datum.value)/LN10 - round(log(datum.value)/LN10)) < 0.01", "value": -9}, "value": -4.5}, "labels": false, "title": null, "zindex": 1}},
     "y2": {"field": "hi1"},
     "detail": {"field": "s"}}},
   {"mark": {"type": "line", "color": "black", "strokeDash": [2, 3], "strokeWidth": 1.5},
    "encoding": {"x": {"field": "x", "type": "quantitative", "axis": null}, "y": {"field": "exp", "type": "quantitative", "axis": null}, "detail": {"field": "s"}}},
   {"mark": {"type": "line", "color": "black", "strokeWidth": 1.6},
    "encoding": {"x": {"field": "x", "type": "quantitative", "axis": null}, "y": {"field": "obs", "type": "quantitative", "axis": null}, "detail": {"field": "s"}}},
   {"data": {"values": [{}]}, "mark": {"type": "text", "text": "ATLAS", "align": "right", "baseline": "middle", "fontSize": 14.8, "fontWeight": "bold", "fontStyle": "italic"},
    "encoding": {"x": {"datum": 22.052, "type": "quantitative", "axis": null}, "y": {"datum": 4.55e-6, "type": "quantitative", "axis": null}}},
   {"data": {"values": [{}]}, "mark": {"type": "text", "text": "Preliminary", "align": "left", "baseline": "middle", "fontSize": 14.8},
    "encoding": {"x": {"datum": 23.012, "type": "quantitative", "axis": null}, "y": {"datum": 4.55e-6, "type": "quantitative", "axis": null}}},
   {"data": {"values": [{}]}, "mark": {"type": "text", "text": "√s = 13 TeV, 139 fb⁻¹", "align": "left", "baseline": "middle", "fontSize": 13.5},
    "encoding": {"x": {"datum": 15.778, "type": "quantitative", "axis": null}, "y": {"datum": 2.12e-6, "type": "quantitative", "axis": null}}},
   {"data": {"values": [{}]}, "mark": {"type": "text", "text": "m", "align": "left", "baseline": "alphabetic", "fontSize": 15.5},
    "encoding": {"x": {"datum": 8.097, "type": "quantitative", "axis": null}, "y": {"datum": 2.67e-8, "type": "quantitative", "axis": null}}},
   {"data": {"values": [{}]}, "mark": {"type": "text", "text": "h", "align": "left", "baseline": "alphabetic", "fontSize": 11, "dy": 5},
    "encoding": {"x": {"datum": 10.273, "type": "quantitative", "axis": null}, "y": {"datum": 2.67e-8, "type": "quantitative", "axis": null}}},
   {"data": {"values": [{}]}, "mark": {"type": "text", "text": "D", "align": "left", "baseline": "alphabetic", "fontSize": 7.5, "dy": 9},
    "encoding": {"x": {"datum": 11.105, "type": "quantitative", "axis": null}, "y": {"datum": 2.67e-8, "type": "quantitative", "axis": null}}},
   {"data": {"values": [{}]}, "mark": {"type": "text", "text": "= 50 GeV", "align": "left", "baseline": "alphabetic", "fontSize": 15.5},
    "encoding": {"x": {"datum": 12.245, "type": "quantitative", "axis": null}, "y": {"datum": 2.67e-8, "type": "quantitative", "axis": null}}}
  ]}
 ]
},
{
 "width": 289, "height": 212,
 "data": {"name": "m60"},
 "resolve": {"axis": {"x": "independent", "y": "independent"}},
 "layer": [
  {"mark": {"type": "area", "color": "#ffff00"},
   "encoding": {
    "x": {"field": "x", "type": "quantitative", "scale": {"domain": [4, 31], "nice": false, "zero": false},
      "axis": {"values": [4,5,6,7,8,9,10,11,12,13,14,15,16,17,18,19,20,21,22,23,24,25,26,27,28,29,30,31], "tickSize": {"condition": {"test": "datum.value % 5 == 0", "value": -6}, "value": -3}, "labelExpr": "datum.value % 5 == 0 ? datum.label : ''", "labelPadding": 9, "title": "mA' [GeV]", "titleAnchor": "end", "titlePadding": 3, "zindex": 1}},
    "y": {"field": "lo2", "type": "quantitative", "scale": {"type": "log", "domain": [2.1e-8, 2.15e-5], "nice": false},
      "axis": {"values": [3e-8,4e-8,5e-8,6e-8,7e-8,8e-8,9e-8,1e-7,2e-7,3e-7,4e-7,5e-7,6e-7,7e-7,8e-7,9e-7,1e-6,2e-6,3e-6,4e-6,5e-6,6e-6,7e-6,8e-6,9e-6,1e-5,2e-5], "tickSize": {"condition": {"test": "abs(log(datum.value)/LN10 - round(log(datum.value)/LN10)) < 0.01", "value": -9}, "value": -4.5}, "labelExpr": "abs(log(datum.value)/LN10 - round(log(datum.value)/LN10)) < 0.01 ? '10⁻' + ['⁰','¹','²','³','⁴','⁵','⁶','⁷','⁸','⁹'][-round(log(datum.value)/LN10)] : ''", "labelPadding": 13, "title": "αDε²", "titleAnchor": "end", "titlePadding": -1, "zindex": 1}},
    "y2": {"field": "hi2"},
    "detail": {"field": "s"}}},
  {"layer": [
   {"mark": {"type": "area", "color": "#00ff00"},
    "encoding": {
     "x": {"field": "x", "type": "quantitative", "axis": {"orient": "top", "values": [4,5,6,7,8,9,10,11,12,13,14,15,16,17,18,19,20,21,22,23,24,25,26,27,28,29,30,31], "tickSize": {"condition": {"test": "datum.value % 5 == 0", "value": -6}, "value": -3}, "labels": false, "title": null, "zindex": 1}},
     "y": {"field": "lo1", "type": "quantitative", "axis": {"orient": "right", "values": [3e-8,4e-8,5e-8,6e-8,7e-8,8e-8,9e-8,1e-7,2e-7,3e-7,4e-7,5e-7,6e-7,7e-7,8e-7,9e-7,1e-6,2e-6,3e-6,4e-6,5e-6,6e-6,7e-6,8e-6,9e-6,1e-5,2e-5], "tickSize": {"condition": {"test": "abs(log(datum.value)/LN10 - round(log(datum.value)/LN10)) < 0.01", "value": -9}, "value": -4.5}, "labels": false, "title": null, "zindex": 1}},
     "y2": {"field": "hi1"},
     "detail": {"field": "s"}}},
   {"mark": {"type": "line", "color": "black", "strokeDash": [2, 3], "strokeWidth": 1.5},
    "encoding": {"x": {"field": "x", "type": "quantitative", "axis": null}, "y": {"field": "exp", "type": "quantitative", "axis": null}, "detail": {"field": "s"}}},
   {"mark": {"type": "line", "color": "black", "strokeWidth": 1.6},
    "encoding": {"x": {"field": "x", "type": "quantitative", "axis": null}, "y": {"field": "obs", "type": "quantitative", "axis": null}, "detail": {"field": "s"}}},
   {"data": {"values": [{}]}, "mark": {"type": "text", "text": "ATLAS", "align": "right", "baseline": "middle", "fontSize": 14.8, "fontWeight": "bold", "fontStyle": "italic"},
    "encoding": {"x": {"datum": 17.173, "type": "quantitative", "axis": null}, "y": {"datum": 9.96e-6, "type": "quantitative", "axis": null}}},
   {"data": {"values": [{}]}, "mark": {"type": "text", "text": "Preliminary", "align": "left", "baseline": "middle", "fontSize": 14.8},
    "encoding": {"x": {"datum": 17.873, "type": "quantitative", "axis": null}, "y": {"datum": 9.96e-6, "type": "quantitative", "axis": null}}},
   {"data": {"values": [{}]}, "mark": {"type": "text", "text": "√s = 13 TeV, 139 fb⁻¹", "align": "left", "baseline": "middle", "fontSize": 13.5},
    "encoding": {"x": {"datum": 12.595, "type": "quantitative", "axis": null}, "y": {"datum": 4.26e-6, "type": "quantitative", "axis": null}}},
   {"data": {"values": [{}]}, "mark": {"type": "text", "text": "m", "align": "left", "baseline": "alphabetic", "fontSize": 15.5},
    "encoding": {"x": {"datum": 6.99, "type": "quantitative", "axis": null}, "y": {"datum": 3.27e-8, "type": "quantitative", "axis": null}}},
   {"data": {"values": [{}]}, "mark": {"type": "text", "text": "h", "align": "left", "baseline": "alphabetic", "fontSize": 11, "dy": 5},
    "encoding": {"x": {"datum": 8.578, "type": "quantitative", "axis": null}, "y": {"datum": 3.27e-8, "type": "quantitative", "axis": null}}},
   {"data": {"values": [{}]}, "mark": {"type": "text", "text": "D", "align": "left", "baseline": "alphabetic", "fontSize": 7.5, "dy": 9},
    "encoding": {"x": {"datum": 9.185, "type": "quantitative", "axis": null}, "y": {"datum": 3.27e-8, "type": "quantitative", "axis": null}}},
   {"data": {"values": [{}]}, "mark": {"type": "text", "text": "= 60 GeV", "align": "left", "baseline": "alphabetic", "fontSize": 15.5},
    "encoding": {"x": {"datum": 10.016, "type": "quantitative", "axis": null}, "y": {"datum": 3.27e-8, "type": "quantitative", "axis": null}}}
  ]}
 ]
},
{
 "width": 289, "height": 212,
 "data": {"name": "m70"},
 "resolve": {"axis": {"x": "independent", "y": "independent"}},
 "layer": [
  {"mark": {"type": "area"},
   "encoding": {
    "x": {"field": "x", "type": "quantitative", "scale": {"domain": [4, 36], "nice": false, "zero": false},
      "axis": {"values": [4,5,6,7,8,9,10,11,12,13,14,15,16,17,18,19,20,21,22,23,24,25,26,27,28,29,30,31,32,33,34,35,36], "tickSize": {"condition": {"test": "datum.value % 5 == 0", "value": -6}, "value": -3}, "labelExpr": "datum.value % 5 == 0 ? datum.label : ''", "labelPadding": 9, "title": "mA' [GeV]", "titleAnchor": "end", "titlePadding": 3, "zindex": 1}},
    "y": {"field": "lo2", "type": "quantitative", "scale": {"type": "log", "domain": [1e-7, 6.0e-5], "nice": false},
      "axis": {"values": [1e-7,2e-7,3e-7,4e-7,5e-7,6e-7,7e-7,8e-7,9e-7,1e-6,2e-6,3e-6,4e-6,5e-6,6e-6,7e-6,8e-6,9e-6,1e-5,2e-5,3e-5,4e-5,5e-5,6e-5], "tickSize": {"condition": {"test": "abs(log(datum.value)/LN10 - round(log(datum.value)/LN10)) < 0.01", "value": -9}, "value": -4.5}, "labelExpr": "abs(log(datum.value)/LN10 - round(log(datum.value)/LN10)) < 0.01 ? '10⁻' + ['⁰','¹','²','³','⁴','⁵','⁶','⁷','⁸','⁹'][-round(log(datum.value)/LN10)] : ''", "labelPadding": 13, "title": "αDε²", "titleAnchor": "end", "titlePadding": -1, "zindex": 1}},
    "y2": {"field": "hi2"},
    "detail": {"field": "s"},
    "color": {"datum": "Expected ± 2σ", "type": "nominal",
      "scale": {"domain": ["Expected", "Expected ± 1σ", "Expected ± 2σ", "Observed"], "range": ["#000000", "#00ff00", "#ffff00", "#000000"]},
      "legend": {"title": "Limits (95% CL)", "orient": "none", "legendX": 166, "legendY": 87, "padding": 0, "titleAnchor": "end", "titleFontSize": 14, "titleFontWeight": "normal", "titleFont": "Liberation Sans", "titleColor": "black", "titlePadding": 4, "labelFontSize": 14, "labelFont": "Liberation Sans", "labelColor": "black", "labelOffset": 8, "symbolSize": 400, "rowPadding": 0,
        "encode": {"symbols": {"update": {
          "shape": {"signal": "datum.value == 'Expected ± 1σ' || datum.value == 'Expected ± 2σ' ? 'M-1.33,-0.8H1.33V0.8H-1.33Z' : 'M-1.25,0H1.25'"},
          "fill": {"signal": "datum.value == 'Expected ± 1σ' ? '#00ff00' : datum.value == 'Expected ± 2σ' ? '#ffff00' : 'transparent'"},
          "stroke": {"signal": "datum.value == 'Expected' || datum.value == 'Observed' ? 'black' : 'transparent'"},
          "strokeDash": {"signal": "datum.value == 'Expected' ? [2, 3] : [1, 0]"},
          "strokeWidth": {"value": 1.6},
          "opacity": {"value": 1}, "fillOpacity": {"value": 1}, "strokeOpacity": {"value": 1},
          "size": {"value": 400}}}}}}}},
  {"layer": [
   {"mark": {"type": "area"},
    "encoding": {
     "x": {"field": "x", "type": "quantitative", "axis": {"orient": "top", "values": [4,5,6,7,8,9,10,11,12,13,14,15,16,17,18,19,20,21,22,23,24,25,26,27,28,29,30,31,32,33,34,35,36], "tickSize": {"condition": {"test": "datum.value % 5 == 0", "value": -6}, "value": -3}, "labels": false, "title": null, "zindex": 1}},
     "y": {"field": "lo1", "type": "quantitative", "axis": {"orient": "right", "values": [1e-7,2e-7,3e-7,4e-7,5e-7,6e-7,7e-7,8e-7,9e-7,1e-6,2e-6,3e-6,4e-6,5e-6,6e-6,7e-6,8e-6,9e-6,1e-5,2e-5,3e-5,4e-5,5e-5,6e-5], "tickSize": {"condition": {"test": "abs(log(datum.value)/LN10 - round(log(datum.value)/LN10)) < 0.01", "value": -9}, "value": -4.5}, "labels": false, "title": null, "zindex": 1}},
     "y2": {"field": "hi1"},
     "detail": {"field": "s"},
     "color": {"datum": "Expected ± 1σ", "type": "nominal"}}},
   {"mark": {"type": "line", "strokeDash": [2, 3], "strokeWidth": 1.5},
    "encoding": {"x": {"field": "x", "type": "quantitative", "axis": null}, "y": {"field": "exp", "type": "quantitative", "axis": null}, "detail": {"field": "s"}, "color": {"datum": "Expected", "type": "nominal"}}},
   {"mark": {"type": "line", "strokeWidth": 1.6},
    "encoding": {"x": {"field": "x", "type": "quantitative", "axis": null}, "y": {"field": "obs", "type": "quantitative", "axis": null}, "detail": {"field": "s"}, "color": {"datum": "Observed", "type": "nominal"}}},
   {"data": {"values": [{}]}, "mark": {"type": "text", "text": "ATLAS", "align": "right", "baseline": "middle", "fontSize": 14.8, "fontWeight": "bold", "fontStyle": "italic"},
    "encoding": {"x": {"datum": 19.612, "type": "quantitative", "axis": null}, "y": {"datum": 2.95e-5, "type": "quantitative", "axis": null}}},
   {"data": {"values": [{}]}, "mark": {"type": "text", "text": "Preliminary", "align": "left", "baseline": "middle", "fontSize": 14.8},
    "encoding": {"x": {"datum": 20.443, "type": "quantitative", "axis": null}, "y": {"datum": 2.95e-5, "type": "quantitative", "axis": null}}},
   {"data": {"values": [{}]}, "mark": {"type": "text", "text": "√s = 13 TeV, 139 fb⁻¹", "align": "left", "baseline": "middle", "fontSize": 13.5},
    "encoding": {"x": {"datum": 14.187, "type": "quantitative", "axis": null}, "y": {"datum": 1.35e-5, "type": "quantitative", "axis": null}}},
   {"data": {"values": [{}]}, "mark": {"type": "text", "text": "m", "align": "left", "baseline": "alphabetic", "fontSize": 15.5},
    "encoding": {"x": {"datum": 7.543, "type": "quantitative", "axis": null}, "y": {"datum": 1.5e-7, "type": "quantitative", "axis": null}}},
   {"data": {"values": [{}]}, "mark": {"type": "text", "text": "h", "align": "left", "baseline": "alphabetic", "fontSize": 11, "dy": 5},
    "encoding": {"x": {"datum": 9.426, "type": "quantitative", "axis": null}, "y": {"datum": 1.5e-7, "type": "quantitative", "axis": null}}},
   {"data": {"values": [{}]}, "mark": {"type": "text", "text": "D", "align": "left", "baseline": "alphabetic", "fontSize": 7.5, "dy": 9},
    "encoding": {"x": {"datum": 10.145, "type": "quantitative", "axis": null}, "y": {"datum": 1.5e-7, "type": "quantitative", "axis": null}}},
   {"data": {"values": [{}]}, "mark": {"type": "text", "text": "= 70 GeV", "align": "left", "baseline": "alphabetic", "fontSize": 15.5},
    "encoding": {"x": {"datum": 11.131, "type": "quantitative", "axis": null}, "y": {"datum": 1.5e-7, "type": "quantitative", "axis": null}}}
  ]}
 ]
}
]
}
